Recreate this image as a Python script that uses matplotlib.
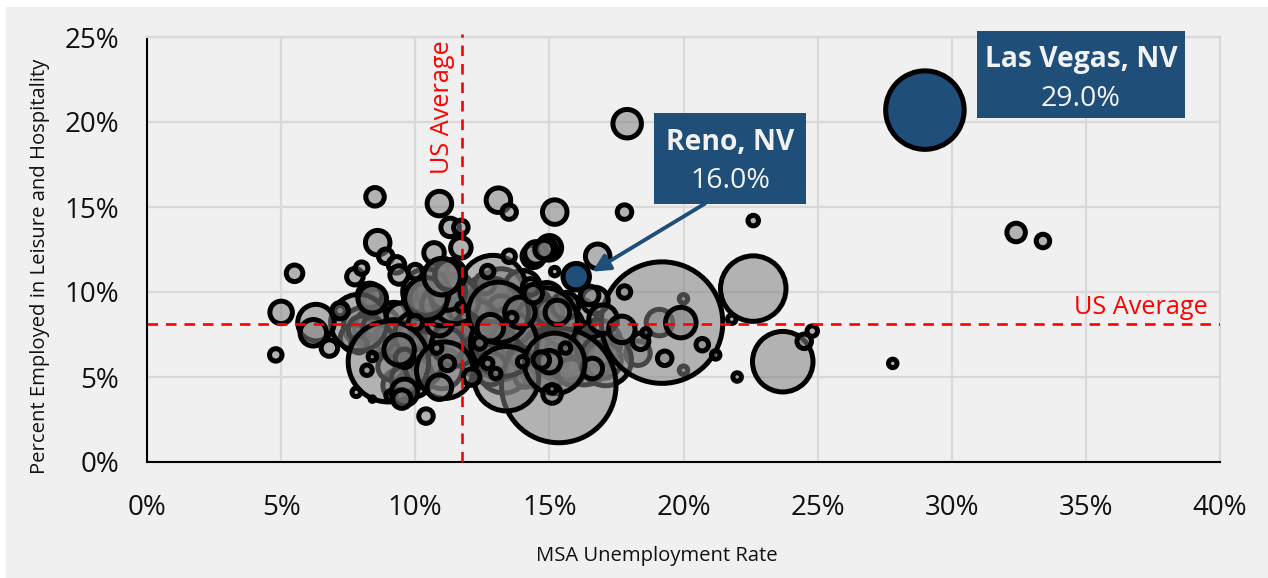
import matplotlib
matplotlib.use('Agg')
import matplotlib.pyplot as plt
from matplotlib.patches import Rectangle

plt.rcParams['font.family'] = ['Open Sans', 'DejaVu Sans']

# bubbles buried in the crowded middle, drawn first so they show through
under_unemployment = [
    10.4, 10.3, 10.6, 10.2, 10.5, 10.1, 10.7, 8.4, 8.5, 8.3, 8.4,
    8.0, 8.6, 9.2, 7.7, 9.5, 9.8,
    10.7, 11.2, 11.0, 11.6, 10.8, 11.4, 11.0, 10.3, 9.9, 9.4,
    12.6, 13.2, 13.0, 13.6, 12.9, 13.6, 14.4, 14.2, 13.3, 15.0, 15.3, 14.8, 15.7, 16.0, 12.3,
    12.8, 13.3, 14.9, 14.0, 14.2, 16.3,
    10.0, 10.6, 10.9, 10.0, 10.5, 9.9, 10.8, 10.3, 10.5, 10.4,
    8.4, 8.2, 8.6, 8.5, 8.3,
    9.4, 9.5, 9.1, 8.0, 8.4, 9.6, 9.2, 10.3, 10.1, 8.6, 7.9,
    12.7, 13.0, 12.9, 12.6, 13.2, 13.5, 14.0, 13.2, 14.3, 12.5, 12.8, 13.9, 14.6, 15.2, 15.7,
    15.5, 14.6, 15.0, 15.6, 13.0, 14.1, 15.8, 16.1, 16.8, 17.0, 12.3, 11.5, 11.2, 11.5, 10.9,
    11.0, 11.5, 11.2,
]
under_leisure = [
    9.6, 9.8, 9.4, 9.4, 9.9, 10.0, 9.1, 9.6, 9.7, 9.5, 9.4,
    8.0, 7.8, 8.2, 7.3, 8.4, 7.4,
    8.0, 8.6, 10.5, 10.3, 11.0, 7.6, 5.5, 6.3, 5.0, 4.5,
    9.2, 10.0, 8.6, 9.2, 7.0, 7.0, 8.2, 6.6, 5.6, 7.0, 6.2, 5.6, 7.4, 8.5, 6.0,
    8.0, 7.8, 9.6, 10.2, 9.4, 6.2,
    9.9, 10.2, 9.3, 9.0, 9.6, 9.7, 9.8, 9.1, 10.0, 9.6,
    9.7, 9.4, 9.9, 9.5, 9.8,
    6.6, 6.4, 5.6, 7.8, 8.0, 4.9, 7.3, 5.6, 7.5, 7.2, 6.9,
    9.6, 10.0, 9.4, 10.5, 9.0, 8.0, 7.0, 6.2, 7.5, 6.5, 5.5, 6.3, 7.0, 6.6, 6.2,
    8.0, 9.4, 8.8, 9.2, 7.4, 5.0, 5.3, 7.0, 7.0, 6.0, 8.3, 8.0, 6.9, 7.0, 8.2,
    9.2, 9.5, 10.0,
]
under_size = [
    40, 34, 32, 38, 26, 24, 24, 30, 24, 24, 20,
    40, 50, 44, 30, 36, 30,
    44, 50, 46, 30, 28, 60, 44, 50, 44, 36,
    60, 50, 46, 40, 60, 60, 50, 60, 56, 56, 50, 50, 46, 44, 36,
    40, 40, 36, 40, 32, 60,
    14, 12, 14, 12, 12, 20, 24, 28, 30, 36,
    20, 14, 14, 26, 28,
    26, 20, 30, 30, 22, 30, 40, 40, 50, 34, 20,
    40, 30, 50, 24, 30, 40, 46, 50, 50, 30, 36, 26, 30, 40, 50,
    44, 26, 30, 30, 24, 24, 30, 34, 50, 40, 44, 40, 36, 50, 30,
    44, 50, 40,
]

# unemployment rate, leisure share, bubble size (draw order matters)
unemployment = [
    19.1, 20.0, 20.0, 18.3, 17.1, 15.35, 19.2, 14.8, 13.3, 13.4, 12.9, 13.1, 7.9, 9.0, 11.1,
    11.0, 10.4, 10.4, 11.3, 12.8, 13.9, 13.6, 12.7, 13.5, 14.4, 14.5, 15.0, 15.2, 16.8, 16.7, 16.5,
    15.3, 17.0, 17.7, 16.6, 18.4, 18.6, 19.9, 17.8, 20.7, 19.3, 21.2, 21.8, 22.0, 22.6, 23.7, 24.5, 24.8,
    22.6, 15.2, 15.0, 15.6, 15.1, 15.1, 14.0, 14.7, 13.0, 12.7, 12.1, 12.4, 14.3, 14.4,
    4.8, 5.0, 5.5, 6.3, 6.2, 6.8, 8.5, 8.6, 8.9, 9.3, 10.9, 11.3, 11.7, 11.7, 10.7, 10.4,
    7.75, 8.0, 8.4, 7.2, 7.2, 10.8, 11.2, 8.2, 8.4, 9.6, 9.4, 7.8, 8.4, 9.1, 9.6, 9.5, 10.9,
    10.0, 11.7, 10.0, 9.4, 11.3, 11.0, 17.9, 13.1, 13.5, 15.2, 14.9, 17.8, 14.8, 32.4, 33.4, 27.8,
]
leisure = [
    8.2, 9.6, 5.4, 6.4, 6.0, 4.5, 8.2, 8.3, 7.0, 4.9, 10.2, 8.8, 8.2, 5.9, 5.4,
    10.9, 10.0, 9.6, 11.0, 7.9, 8.8, 8.5, 11.2, 12.1, 12.1, 12.3, 12.6, 11.2, 12.1, 9.5, 9.8,
    8.8, 8.4, 7.8, 5.5, 7.1, 7.6, 8.2, 10.0, 6.9, 6.1, 6.3, 8.4, 5.0, 10.2, 5.9, 7.1, 7.7,
    14.2, 5.8, 5.9, 6.7, 4.0, 4.3, 5.9, 6.0, 5.2, 5.8, 5.0, 7.0, 10.3, 9.9,
    6.3, 8.8, 11.1, 8.2, 7.6, 6.7, 15.6, 12.9, 12.1, 11.6, 15.2, 13.8, 13.8, 12.6, 12.3, 2.7,
    10.9, 11.4, 9.6, 8.9, 8.9, 6.7, 5.8, 5.4, 6.2, 6.1, 6.6, 4.1, 3.7, 3.9, 4.1, 3.7, 4.4,
    8.2, 9.1, 11.2, 11.0, 11.0, 10.9, 19.9, 15.4, 14.7, 14.7, 12.5, 14.7, 12.5, 13.5, 13.0, 5.8,
]
msa_size = [
    30, 12, 12, 28, 55, 118, 125, 70, 70, 68, 70, 64, 60, 84, 60,
    40, 50, 46, 34, 30, 34, 14, 16, 16, 26, 26, 28, 12, 28, 30, 22,
    28, 32, 30, 24, 20, 12, 34, 16, 16, 18, 12, 12, 12, 69, 64, 18, 14,
    14, 64, 26, 14, 22, 12, 14, 20, 14, 14, 20, 16, 20, 22,
    16, 26, 20, 40, 30, 20, 22, 28, 18, 20, 28, 22, 18, 24, 24, 18,
    20, 16, 32, 14, 20, 14, 18, 14, 12, 22, 34, 12, 8, 14, 30, 22, 28,
    18, 12, 18, 22, 34, 40, 32, 28, 18, 28, 24, 18, 22, 22, 17, 12,
]

highlight_x = [29.0, 16.0]
highlight_y = [20.7, 10.9]
highlight_size = [82, 30]

us_avg_unemployment = 11.75
us_avg_leisure = 8.1

x_ticks = [0, 5, 10, 15, 20, 25, 30, 35, 40]
y_ticks = [0, 5, 10, 15, 20, 25]

NAVY = '#1F4E79'
EDGE_W = 3.6


def area(sizes):
    return [((d + 1.5) * 0.72 - EDGE_W) ** 2 for d in sizes]


fig = plt.figure(figsize=(12.68, 5.78), dpi=100, facecolor='white')
fig.patches.append(Rectangle((6 / 1268, 0), 1, 1 - 7 / 578, transform=fig.transFigure,
                             facecolor='#F0F0F0', edgecolor='none', zorder=-1))

ax = fig.add_axes([147 / 1268, 1 - 462 / 578, 1073 / 1268, 425 / 578])
ax.set_facecolor('none')
ax.set_xlim(0, 40)
ax.set_ylim(0, 25)
ax.set_xticks(x_ticks)
ax.set_yticks(y_ticks)
ax.set_xticklabels([f'{v}%' for v in x_ticks])
ax.set_yticklabels([f'{v}%' for v in y_ticks])
ax.tick_params(length=0, labelsize=20, colors='#111111')
ax.tick_params(axis='x', pad=23)
ax.tick_params(axis='y', pad=20)
ax.grid(color='#D9D9D9', lw=1.6, zorder=0)
ax.set_axisbelow(True)
for side in ['top', 'right']:
    ax.spines[side].set_color('#D9D9D9')
    ax.spines[side].set_linewidth(1.6)
for side in ['left', 'bottom']:
    ax.spines[side].set_color('black')
    ax.spines[side].set_linewidth(1.5)

ax.scatter(under_unemployment + unemployment, under_leisure + leisure, s=area(under_size + msa_size),
           facecolors=(0.498, 0.498, 0.498, 0.55), edgecolors='black', linewidths=EDGE_W, zorder=3, clip_on=False)
ax.scatter(highlight_x, highlight_y, s=area(highlight_size), facecolors=NAVY,
           edgecolors='black', linewidths=EDGE_W, zorder=4, clip_on=False)

ax.plot([us_avg_unemployment] * 2, [0, 25.2], color='red', lw=1.9, ls=(0, (4, 3)), zorder=5, clip_on=False)
ax.plot([0, 40], [us_avg_leisure] * 2, color='red', lw=1.9, ls=(0, (4, 3)), zorder=5)

ax.text(11.0, 20.9, 'US Average', color='red', fontsize=18.2, rotation=90, ha='center', va='center', zorder=6)
ax.text(37.04, 9.1, 'US Average', color='red', fontsize=18.2, ha='center', va='center', zorder=6)

ax.annotate('', xy=(16.6, 11.2), xytext=(20.8, 15.2),
            arrowprops=dict(arrowstyle='-|>', color=NAVY, lw=2.8, mutation_scale=26, shrinkA=0, shrinkB=0), zorder=6)

ax.add_patch(Rectangle((30.94, 20.24), 7.75, 5.11, facecolor=NAVY, edgecolor='none', zorder=7, clip_on=False))
ax.add_patch(Rectangle((18.9, 15.18), 5.66, 5.35, facecolor=NAVY, edgecolor='none', zorder=7, clip_on=False))
ax.text(34.82, 23.65, 'Las Vegas, NV', color='#F2F2F2', fontsize=20.3, fontweight='bold',
        ha='center', va='center', zorder=8)
ax.text(34.82, 21.35, '29.0%', color='#F2F2F2', fontsize=20.5, ha='center', va='center', zorder=8)
ax.text(21.73, 18.8, 'Reno, NV', color='#F2F2F2', fontsize=20.3, fontweight='bold',
        ha='center', va='center', zorder=8)
ax.text(21.73, 16.5, '16.0%', color='#F2F2F2', fontsize=20.5, ha='center', va='center', zorder=8)

fig.text(657 / 1268, 1 - 556 / 578, 'MSA Unemployment Rate', fontsize=14.6, color='#111111', ha='center', va='center')
fig.text(40 / 1268, 1 - 266 / 578, 'Percent Employed in Leisure and Hospitality', fontsize=14.6, color='#111111',
         rotation=90, ha='center', va='center')

fig.savefig('out.png', dpi=100, facecolor=fig.get_facecolor())
